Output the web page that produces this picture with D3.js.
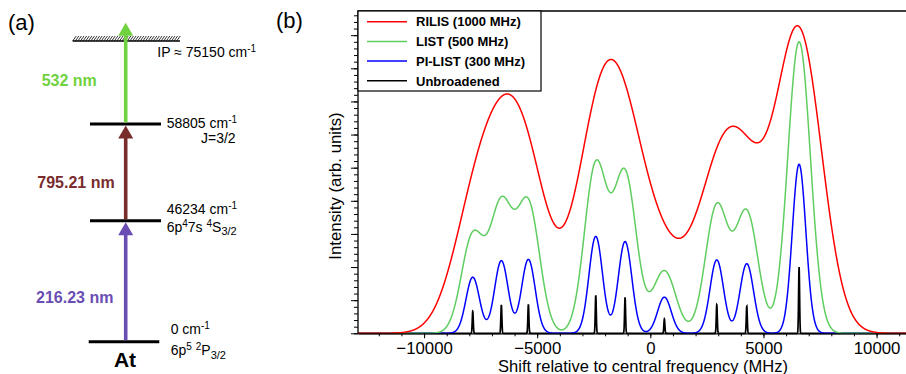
<!DOCTYPE html>
<html>
<head>
<meta charset="utf-8">
<script src="https://cdn.jsdelivr.net/npm/d3@7"></script>
<style>
  body { margin: 0; background: #fff; }
  svg { display: block; font-family: "Liberation Sans", Arial, sans-serif; }
</style>
</head>
<body>
<script>
// ---- data ----

// hyperfine components (black sticks): shift in MHz and relative intensity
var compShift = [-7848, -6584, -5390, -2411, -1116, 621, 2937, 4263, 6575];
var compInt = [0.664, 0.860, 0.875, 1.147, 1.086, 0.428, 0.869, 0.824, 2.0];

// spectra: names, gaussian width (MHz) and overall gain of each profile
var seriesNames = ["RILIS (1000 MHz)", "LIST (500 MHz)", "PI-LIST (300 MHz)", "Unbroadened"];
var seriesSigma = [1000, 500, 300, 22];
var seriesGain = [4.5, 4.4, 2.55, 1];

var xTicks = [-10000, -5000, 0, 5000, 10000];
var xDomain = [-12920, 11300];
var yDomain = [0, 9.73];

// level scheme of panel (a)
var levelKeys = ["ground", "mid", "upper", "ip"];
var levelEnergy = ["0 cm", "46234 cm", "58805 cm", "IP \u2248 75150 cm"];
var transitionLabels = ["216.23 nm", "795.21 nm", "532 nm"];

// ---- styles ----
var seriesColors = ["#ff0000", "#5fcd5f", "#0000ff", "#000000"];
var transitionColors = ["#6a4db3", "#782c2c", "#6fd23e"];

var width = 906;
var height = 374;

var svg = d3.select("body")
            .append("svg")
            .attr("width", width)
            .attr("height", height);

// ============ panel (a) ============
svg.append("text")
   .attr("x", 8).attr("y", 30)
   .style("font-size", "22px")
   .text("(a)");

var levelY = d3.scaleOrdinal().domain(levelKeys).range([341.7, 220.7, 124, 41]);
var levelX1 = [88.7, 90, 90, 72.7];
var levelX2 = [159.3, 161, 161, 180];
var arrowX = 125.7;

// hatched ionisation limit
svg.append("line")
   .attr("x1", levelX1[3]).attr("x2", levelX2[3])
   .attr("y1", levelY("ip")).attr("y2", levelY("ip"))
   .attr("stroke", "#000").attr("stroke-width", 1.6);
for (var hx = levelX1[3]; hx < levelX2[3] - 3; hx += 2.6) {
  svg.append("line")
     .attr("x1", hx).attr("y1", levelY("ip"))
     .attr("x2", hx + 3.5).attr("y2", levelY("ip") - 5)
     .attr("stroke", "#000").attr("stroke-width", 0.8);
}

// bound levels
for (var i = 0; i < 3; i++) {
  svg.append("line")
     .attr("x1", levelX1[i]).attr("x2", levelX2[i])
     .attr("y1", levelY(levelKeys[i])).attr("y2", levelY(levelKeys[i]))
     .attr("stroke", "#000").attr("stroke-width", 3);
}

// arrows between levels
var arrowTop = [levelY("mid") + 1.5, levelY("upper") + 1.5, 22.7];
var arrowBottom = [levelY("ground") - 1.5, levelY("mid") - 1.5, levelY("upper") - 1.5];
var labelX = [36, 37.3, 41.7];
var labelY = [302.7, 187.7, 86];
transitionLabels.forEach(function(t, k) {
  var head = 13;
  svg.append("line")
     .attr("x1", arrowX).attr("x2", arrowX)
     .attr("y1", arrowBottom[k]).attr("y2", arrowTop[k] + head - 1)
     .attr("stroke", transitionColors[k]).attr("stroke-width", 3.6);
  svg.append("path")
     .attr("d", "M" + arrowX + "," + arrowTop[k] +
                "L" + (arrowX + 7.5) + "," + (arrowTop[k] + head) +
                "L" + (arrowX - 7.5) + "," + (arrowTop[k] + head) + "Z")
     .attr("fill", transitionColors[k]);
  svg.append("text")
     .attr("x", labelX[k]).attr("y", labelY[k])
     .attr("fill", transitionColors[k])
     .style("font-size", "16px").style("font-weight", "bold")
     .text(t);
});

// level annotations with super/subscripts
function richText(x, y, parts) {
  var t = svg.append("text").attr("x", x).attr("y", y).style("font-size", "14px");
  var shift = 0;
  parts.forEach(function(p) {
    var target = p[1] == "sup" ? -5 : (p[1] == "sub" ? 3.5 : 0);
    var s = t.append("tspan").attr("dy", target - shift).text(p[0]);
    if (p[1] != "n") s.style("font-size", p[1] == "sup" ? "10px" : "11px");
    shift = target;
  });
  return t;
}

richText(157.3, 56.7, [[levelEnergy[3], "n"], ["-1", "sup"]]);
richText(166.7, 128, [[levelEnergy[2], "n"], ["-1", "sup"]]);
richText(201, 143.3, [["J=3/2", "n"]]);
richText(166.7, 214.3, [[levelEnergy[1], "n"], ["-1", "sup"]]);
richText(166.7, 231.7, [["6p", "n"], ["4", "sup"], ["7s ", "n"], ["4", "sup"], ["S", "n"], ["3/2", "sub"]]);
richText(170.7, 334.3, [[levelEnergy[0], "n"], ["-1", "sup"]]);
richText(170.7, 355, [["6p", "n"], ["5", "sup"], [" ", "n"], ["2", "sup"], ["P", "n"], ["3/2", "sub"]]);

svg.append("text")
   .attr("x", 125).attr("y", 366.7)
   .attr("text-anchor", "middle")
   .style("font-size", "21px").style("font-weight", "bold")
   .text("At");

// ============ panel (b) ============
svg.append("text")
   .attr("x", 276).attr("y", 28)
   .style("font-size", "22px")
   .text("(b)");

var plotLeft = 358, plotTop = 11, plotBottom = 333.3;

var xScale = d3.scaleLinear().domain(xDomain).range([plotLeft, 906]);
var yScale = d3.scaleLinear().domain(yDomain).range([plotBottom, plotTop]);

svg.append("clipPath").attr("id", "plotclip")
   .append("rect")
   .attr("x", plotLeft).attr("y", plotTop)
   .attr("width", 906 - plotLeft).attr("height", plotBottom - plotTop + 2);

// profiles: sum of gaussians of the components
var xs = d3.range(xDomain[0], xDomain[1] + 5, 5);
function profile(k) {
  var s2 = 2 * seriesSigma[k] * seriesSigma[k];
  return xs.map(function(x) {
    var y = 0;
    for (var c = 0; c < compShift.length; c++) {
      var d = x - compShift[c];
      y += compInt[c] * Math.exp(-d * d / s2);
    }
    return [x, seriesGain[k] * y];
  });
}

var line = d3.line()
             .x(function(d) { return xScale(d[0]); })
             .y(function(d) { return yScale(d[1]); });

var plot = svg.append("g").attr("clip-path", "url(#plotclip)");
[3, 2, 1, 0].forEach(function(k) {
  plot.append("path")
      .datum(profile(k))
      .attr("d", line)
      .attr("fill", "none")
      .attr("stroke", seriesColors[k])
      .attr("stroke-width", k == 3 ? 1.7 : 1.5);
});

// x axis: major + minor ticks
var minorX = d3.range(-12000, 11001, 1000);
svg.append("g")
   .attr("transform", "translate(0," + plotBottom + ")")
   .call(d3.axisBottom(xScale).tickValues(minorX).tickSize(3).tickFormat(""))
   .call(function(g) { g.select(".domain").remove(); });
var xAxis = svg.append("g")
   .attr("transform", "translate(0," + plotBottom + ")")
   .call(d3.axisBottom(xScale).tickValues(xTicks).tickSize(5).tickPadding(3.8)
           .tickSizeOuter(0).tickFormat(d3.format("d")));
xAxis.select(".domain").attr("stroke-width", 1.3);
xAxis.selectAll("text").style("font-size", "16.8px").attr("fill", "#000")
     .style("font-family", "'Liberation Sans', Arial, sans-serif");

// y axis: no labels, major + minor ticks
var minorY = d3.range(0, 9.7, 0.2);
svg.append("g")
   .attr("transform", "translate(" + plotLeft + ",0)")
   .call(d3.axisLeft(yScale).tickValues(minorY).tickSize(4).tickFormat(""))
   .call(function(g) { g.select(".domain").remove(); });
svg.append("g")
   .attr("transform", "translate(" + plotLeft + ",0)")
   .call(d3.axisLeft(yScale).tickValues(d3.range(0, 10, 1)).tickSize(7).tickFormat("").tickSizeOuter(0))
   .call(function(g) { g.select(".domain").remove(); });

// frame (left + top, the right side is cut by the picture edge)
svg.append("path")
   .attr("d", "M" + plotLeft + "," + plotBottom + "V" + plotTop + "H" + 907)
   .attr("fill", "none").attr("stroke", "#000").attr("stroke-width", 1.3);

// axis titles
svg.append("text")
   .attr("x", 643).attr("y", 371.5)
   .attr("text-anchor", "middle")
   .style("font-size", "16.5px")
   .text("Shift relative to central frequency (MHz)");

svg.append("text")
   .attr("transform", "translate(341," + 186 + ") rotate(-90)")
   .attr("text-anchor", "middle")
   .style("font-size", "16.8px")
   .text("Intensity (arb. units)");

// legend
var legend = svg.append("g");
legend.append("rect")
      .attr("x", plotLeft).attr("y", plotTop)
      .attr("width", 183).attr("height", 80)
      .attr("fill", "#fff").attr("stroke", "#000").attr("stroke-width", 1.2);
seriesNames.forEach(function(name, k) {
  var ly = 21.7 + k * 19.7;
  legend.append("line")
        .attr("x1", 367).attr("x2", 407)
        .attr("y1", ly).attr("y2", ly)
        .attr("stroke", seriesColors[k]).attr("stroke-width", 1.5);
  legend.append("text")
        .attr("x", 416).attr("y", ly + 4.7)
        .style("font-size", "13px").style("font-weight", "bold")
        .text(name);
});
</script>
</body>
</html>
